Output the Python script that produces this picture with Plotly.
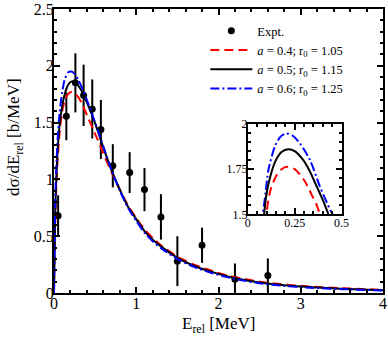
import plotly.graph_objects as go

# experimental points
expt_x = [0.05, 0.15, 0.26, 0.36, 0.465, 0.57, 0.715, 0.92, 1.10, 1.30, 1.50, 1.80, 2.20, 2.60]
expt_y = [0.68, 1.555, 1.85, 1.74, 1.62, 1.44, 1.12, 1.06, 0.91, 0.67, 0.28, 0.42, 0.12, 0.155]
expt_err = [0.18, 0.21, 0.26, 0.27, 0.26, 0.26, 0.19, 0.18, 0.19, 0.20, 0.22, 0.155, 0.14, 0.15]

# calculations, main panel
calc_x = [0, 0.01, 0.02, 0.04, 0.067, 0.10, 0.13, 0.17, 0.21, 0.25, 0.30, 0.35, 0.41, 0.47,
          0.53, 0.6, 0.7, 0.8, 0.9, 1.0, 1.1, 1.2, 1.3, 1.5, 1.7, 1.9, 2.1, 2.3, 2.5,
          2.8, 3.1, 3.5, 4.0]
calc_a04 = [0, 0.45, 0.78, 1.12, 1.40, 1.60, 1.69, 1.75, 1.77, 1.76, 1.72, 1.65, 1.55, 1.45,
            1.35, 1.23, 1.06, 0.91, 0.77, 0.66, 0.56, 0.485, 0.42, 0.32, 0.25, 0.20, 0.156,
            0.125, 0.10, 0.075, 0.058, 0.042, 0.028]
calc_a05 = [0, 0.5, 0.85, 1.2, 1.47, 1.65, 1.75, 1.83, 1.86, 1.86, 1.82, 1.76, 1.66, 1.555,
            1.43, 1.28, 1.08, 0.91, 0.76, 0.65, 0.545, 0.47, 0.41, 0.31, 0.24, 0.19, 0.148,
            0.117, 0.093, 0.068, 0.052, 0.038, 0.025]
calc_a06 = [0, 0.6, 0.95, 1.3, 1.58, 1.77, 1.88, 1.94, 1.95, 1.93, 1.87, 1.79, 1.68, 1.56,
            1.44, 1.29, 1.08, 0.90, 0.75, 0.635, 0.53, 0.455, 0.395, 0.30, 0.23, 0.18, 0.14,
            0.11, 0.085, 0.062, 0.047, 0.034, 0.022]

# inset (zoom on the peak)
ins_a04_x = [0.09, 0.098, 0.12, 0.15, 0.18, 0.21, 0.25, 0.30, 0.34, 0.368, 0.385, 0.40]
ins_a04_y = [1.45, 1.50, 1.63, 1.71, 1.75, 1.763, 1.75, 1.69, 1.61, 1.55, 1.50, 1.46]
ins_a05_x = [0.08, 0.087, 0.098, 0.12, 0.15, 0.18, 0.216, 0.25, 0.296, 0.33, 0.368, 0.40, 0.43, 0.45]
ins_a05_y = [1.45, 1.50, 1.60, 1.71, 1.80, 1.845, 1.86, 1.85, 1.80, 1.74, 1.653, 1.58, 1.50, 1.45]
ins_a06_x = [0.072, 0.08, 0.095, 0.11, 0.146, 0.175, 0.204, 0.24, 0.28, 0.332, 0.385, 0.44, 0.453, 0.47]
ins_a06_y = [1.45, 1.50, 1.62, 1.745, 1.88, 1.93, 1.948, 1.935, 1.89, 1.80, 1.653, 1.524, 1.50, 1.46]

SERIF = "Liberation Serif"
RED, BLACK, BLUE = "#ff0000", "#000000", "#0000ff"
red_dash = "9px,5px"
blue_dash = "9px,3px,2px,3px"

fig = go.Figure()

fig.add_trace(go.Scatter(
    x=expt_x, y=expt_y, mode="markers", name="Expt.",
    marker=dict(color=BLACK, size=7),
    error_y=dict(type="data", array=expt_err, color=BLACK, thickness=2, width=0),
))
fig.add_trace(go.Scatter(
    x=calc_x, y=calc_a04, mode="lines", name="<i>a</i> = 0.4; r<sub>0</sub> = 1.05",
    line=dict(color=RED, width=2, dash=red_dash, shape="spline", smoothing=0.6),
))
fig.add_trace(go.Scatter(
    x=calc_x, y=calc_a05, mode="lines", name="<i>a</i> = 0.5; r<sub>0</sub> = 1.15",
    line=dict(color=BLACK, width=2, shape="spline", smoothing=0.6),
))
fig.add_trace(go.Scatter(
    x=calc_x, y=calc_a06, mode="lines", name="<i>a</i> = 0.6; r<sub>0</sub> = 1.25",
    line=dict(color=BLUE, width=2, dash=blue_dash, shape="spline", smoothing=0.6),
))

# inset traces
for xs, ys, col, dash in [
    (ins_a06_x, ins_a06_y, BLUE, blue_dash),
    (ins_a05_x, ins_a05_y, BLACK, "solid"),
    (ins_a04_x, ins_a04_y, RED, red_dash),
]:
    fig.add_trace(go.Scatter(
        x=xs, y=ys, mode="lines", showlegend=False, xaxis="x2", yaxis="y2",
        line=dict(color=col, width=2, dash=dash, shape="spline", smoothing=0.8),
    ))

axis_common = dict(
    showline=True, linecolor=BLACK, linewidth=2, mirror="allticks",
    ticks="inside", ticklen=6, tickwidth=2, tickcolor=BLACK,
    showgrid=False, zeroline=False, automargin=False,
)

fig.update_layout(
    width=388, height=338,
    margin=dict(l=54, r=5, t=9, b=45),
    paper_bgcolor="white", plot_bgcolor="white",
    font=dict(family=SERIF, color=BLACK, size=16),
    xaxis=dict(
        range=[0, 4], dtick=1, tickfont=dict(size=16), ticklabelstandoff=-5,
        minor=dict(ticks="inside", dtick=0.2, ticklen=3, tickwidth=1.5, tickcolor=BLACK),
        **axis_common,
    ),
    yaxis=dict(
        range=[0, 2.5], dtick=0.5, tickfont=dict(size=16), ticklabelstandoff=-5,
        minor=dict(ticks="inside", dtick=0.1, ticklen=3, tickwidth=1.5, tickcolor=BLACK),
        **axis_common,
    ),
    xaxis2=dict(
        domain=[0.589, 0.874], anchor="y2", range=[0, 0.5],
        tickvals=[0, 0.25, 0.5], ticktext=["0", "0.25", "0.5"], tickfont=dict(size=12),
        ticklabelstandoff=-4,
        minor=dict(ticks="inside", dtick=0.05, ticklen=3, tickwidth=1.5, tickcolor=BLACK),
        **axis_common,
    ),
    yaxis2=dict(
        domain=[0.277, 0.595], anchor="x2", range=[1.5, 2],
        tickvals=[1.5, 1.75, 2], ticktext=["1.5", "1.75", "2"], tickfont=dict(size=12),
        ticklabelstandoff=-4,
        minor=dict(ticks="inside", dtick=0.05, ticklen=3, tickwidth=1.5, tickcolor=BLACK),
        **axis_common,
    ),
    legend=dict(
        x=0.46, y=0.975, xanchor="left", yanchor="top",
        bgcolor="rgba(0,0,0,0)", font=dict(size=12.5),
        itemwidth=42, tracegroupgap=0,
    ),
)

# axis titles as annotations so they sit where the original puts them
fig.add_annotation(
    text="E<sub>rel</sub> [MeV]", xref="paper", yref="paper", x=0.5, y=-0.068,
    xanchor="center", yanchor="top", showarrow=False, font=dict(size=17),
)
fig.add_annotation(
    text="dσ/dE<sub>rel</sub> [b/MeV]", xref="paper", yref="paper", x=-0.118, y=0.55,
    xanchor="center", yanchor="middle", textangle=-90, showarrow=False, font=dict(size=17),
)

# page body has a default 8px margin; drop it so the figure sits at the corner
fig.write_html(
    "out.html",
    config={"displayModeBar": False},
    post_script="document.body.style.margin='0';",
)
